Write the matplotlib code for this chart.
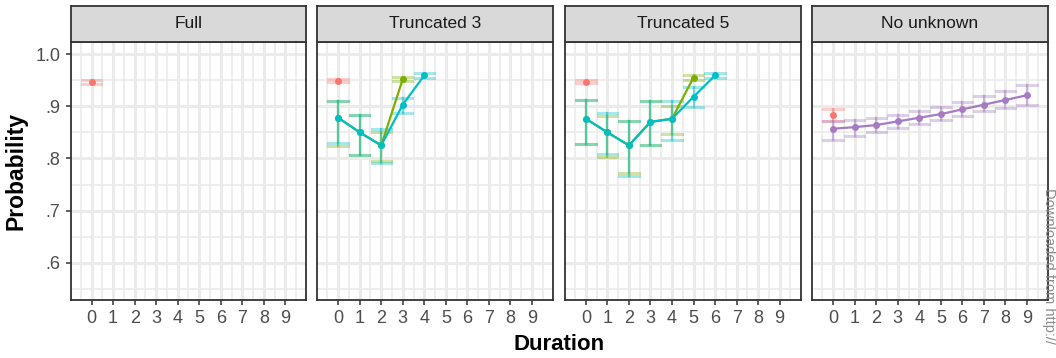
import matplotlib.pyplot as plt
from matplotlib.ticker import MultipleLocator

plt.rcParams['font.family'] = ['Liberation Sans', 'DejaVu Sans']

# facet titles
panels = ["Full", "Truncated 3", "Truncated 5", "No unknown"]
durations = list(range(10))
ytick_vals = [0.6, 0.7, 0.8, 0.9, 1.0]
ytick_labels = [".6", ".7", ".8", ".9", "1.0"]

# Full
full_red_x = [0]
full_red_y = [0.946]
full_red_lo = [0.942]
full_red_hi = [0.950]

# Truncated 3
t3_red_x = [0]
t3_red_y = [0.949]
t3_red_lo = [0.946]
t3_red_hi = [0.953]
t3_green_x = [0, 1, 2, 3]
t3_green_y = [0.878, 0.850, 0.825, 0.952]
t3_green_lo = [0.824, 0.806, 0.795, 0.949]
t3_green_hi = [0.910, 0.883, 0.850, 0.956]
t3_teal_x = [0, 1, 2, 3, 4]
t3_teal_y = [0.878, 0.850, 0.825, 0.903, 0.959]
t3_teal_lo = [0.830, 0.806, 0.792, 0.887, 0.954]
t3_teal_hi = [0.910, 0.883, 0.856, 0.916, 0.963]

# Truncated 5
t5_red_x = [0]
t5_red_y = [0.947]
t5_red_lo = [0.944]
t5_red_hi = [0.951]
t5_green_x = [0, 1, 2, 3, 4, 5]
t5_green_y = [0.876, 0.850, 0.825, 0.870, 0.876, 0.955]
t5_green_lo = [0.827, 0.803, 0.773, 0.825, 0.847, 0.951]
t5_green_hi = [0.911, 0.881, 0.871, 0.910, 0.901, 0.960]
t5_teal_x = [0, 1, 2, 3, 4, 5, 6]
t5_teal_y = [0.876, 0.850, 0.825, 0.870, 0.876, 0.918, 0.959]
t5_teal_lo = [0.827, 0.809, 0.767, 0.825, 0.836, 0.898, 0.954]
t5_teal_hi = [0.911, 0.887, 0.871, 0.910, 0.910, 0.936, 0.963]

# No unknown
nu_red_x = [0]
nu_red_y = [0.883]
nu_red_lo = [0.871]
nu_red_hi = [0.894]
nu_purple_x = [0, 1, 2, 3, 4, 5, 6, 7, 8, 9]
nu_purple_y = [0.857, 0.860, 0.864, 0.871, 0.878, 0.885, 0.894, 0.903, 0.912, 0.921]
nu_purple_lo = [0.836, 0.843, 0.851, 0.859, 0.866, 0.874, 0.881, 0.890, 0.897, 0.903]
nu_purple_hi = [0.871, 0.874, 0.877, 0.883, 0.891, 0.899, 0.909, 0.919, 0.929, 0.940]

RED = "#F8766D"
GREEN = "#7CAE00"
TEAL = "#00BFC4"
PURPLE = "#A67BC2"

panel_series = [
    [(full_red_x, full_red_y, full_red_lo, full_red_hi, RED, False)],
    [(t3_red_x, t3_red_y, t3_red_lo, t3_red_hi, RED, False),
     (t3_green_x, t3_green_y, t3_green_lo, t3_green_hi, GREEN, True),
     (t3_teal_x, t3_teal_y, t3_teal_lo, t3_teal_hi, TEAL, True)],
    [(t5_red_x, t5_red_y, t5_red_lo, t5_red_hi, RED, False),
     (t5_green_x, t5_green_y, t5_green_lo, t5_green_hi, GREEN, True),
     (t5_teal_x, t5_teal_y, t5_teal_lo, t5_teal_hi, TEAL, True)],
    [(nu_red_x, nu_red_y, nu_red_lo, nu_red_hi, RED, False),
     (nu_purple_x, nu_purple_y, nu_purple_lo, nu_purple_hi, PURPLE, True)],
]

W, H = 1056, 358
fig = plt.figure(figsize=(W / 100, H / 100), dpi=100)

lefts = [70.7, 317.3, 565.0, 812.3]
pw = 235.5
top, bottom, strip_top = 42, 300, 6

for i, name in enumerate(panels):
    l = lefts[i]
    ax = fig.add_axes([l / W, 1 - bottom / H, pw / W, (bottom - top) / H])
    sax = fig.add_axes([l / W, 1 - top / H, pw / W, (top - strip_top) / H])
    sax.set_facecolor("#D9D9D9")
    sax.set_xticks([])
    sax.set_yticks([])
    for s in sax.spines.values():
        s.set_color("#333333")
        s.set_linewidth(1.3)
    sax.text(0.5, 0.5, name, ha="center", va="center", fontsize=12.5, color="#1A1A1A",
             transform=sax.transAxes)

    ax.set_xlim(-0.97, 9.97)
    ax.set_ylim(0.529, 1.023)
    ax.set_xticks(durations)
    ax.set_xticklabels([str(d) for d in durations])
    ax.xaxis.set_minor_locator(MultipleLocator(0.5))
    ax.set_yticks(ytick_vals)
    ax.yaxis.set_minor_locator(MultipleLocator(0.05))
    ax.grid(which="major", color="#EBEBEB", linewidth=2.2)
    ax.grid(which="minor", color="#EBEBEB", linewidth=1.2)
    ax.set_axisbelow(True)
    ax.tick_params(axis="both", which="minor", length=0)
    ax.tick_params(axis="both", which="major", length=3.5, width=1.1, color="#333333",
                   labelsize=13, labelcolor="#4D4D4D", pad=4)
    for s in ax.spines.values():
        s.set_color("#333333")
        s.set_linewidth(1.3)
    if i == 0:
        ax.set_yticklabels(ytick_labels)
    else:
        ax.set_yticklabels([])
        ax.tick_params(axis="y", length=0)

    for xs, ys, lo, hi, col, connect in panel_series[i]:
        for x, a, b in zip(xs, lo, hi):
            ax.plot([x, x], [a, b], color=col, alpha=0.5, linewidth=1.6, zorder=2)
            ax.plot([x - 0.45, x + 0.45], [a, a], color=col, alpha=0.35, linewidth=2.2, zorder=2)
            ax.plot([x - 0.45, x + 0.45], [b, b], color=col, alpha=0.35, linewidth=2.2, zorder=2)
    for xs, ys, lo, hi, col, connect in panel_series[i]:
        if connect:
            ax.plot(xs, ys, color=col, linewidth=1.6, zorder=3)
        ax.plot(xs, ys, "o", color=col, markersize=5, markeredgewidth=0, zorder=4)

fig.text(16 / W, 1 - 171 / H, "Probability", rotation=90, ha="center", va="center",
         fontsize=16.5, fontweight="bold", color="black")
fig.text(559 / W, 1 - 345 / H, "Duration", ha="center", va="center",
         fontsize=16, fontweight="bold", color="black")
fig.text(1049 / W, 1 - 188 / H, "Downloaded from http://", rotation=-90, ha="center",
         va="top", fontsize=10.5, color="#8C8C8C")

fig.savefig("out.png", dpi=100)
